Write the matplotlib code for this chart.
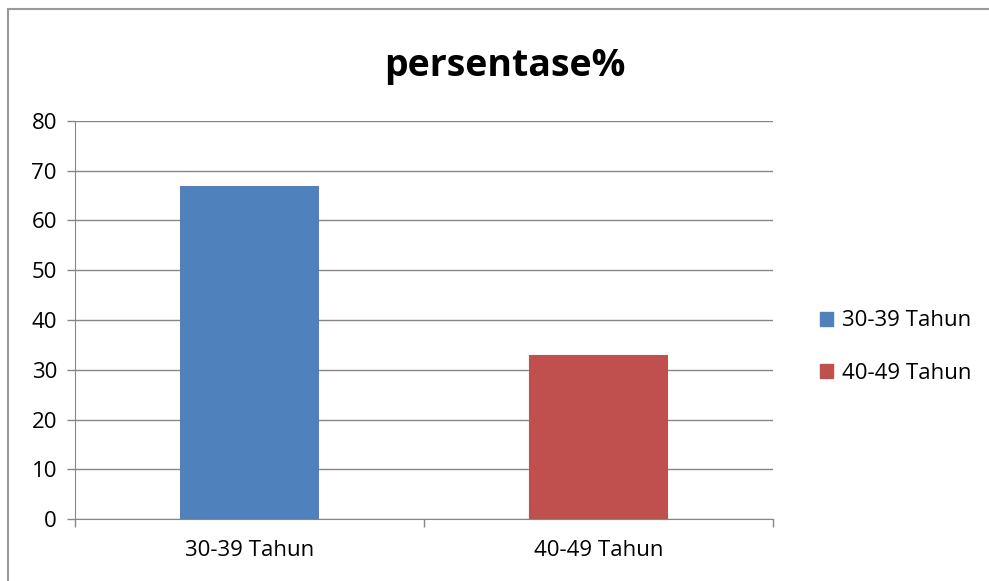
import matplotlib.pyplot as plt
from matplotlib.lines import Line2D
from matplotlib.patches import Patch

categories = ['30-39 Tahun', '40-49 Tahun']
values = [67, 33]
colors = ['#4F81BD', '#C0504D']
yticks = [0, 10, 20, 30, 40, 50, 60, 70, 80]

plt.rcParams['font.family'] = ['Open Sans', 'DejaVu Sans']

fig = plt.figure(figsize=(9.89, 5.81), dpi=100)
ax = fig.add_axes([75 / 989, 62 / 581, 698 / 989, 398 / 581])

x = range(len(categories))
ax.bar(x, values, width=0.4, color=colors, zorder=3)

ax.set_xlim(-0.5, 1.5)
ax.set_ylim(0, 80)
ax.set_yticks(yticks)
ax.set_xticks(list(x))
ax.set_xticklabels(categories)
ax.set_xticks([-0.5, 0.5, 1.5], minor=True)
ax.tick_params(axis='x', which='major', length=0, pad=15, labelsize=16)
ax.tick_params(axis='x', which='minor', length=6, color='#868686', width=1)
ax.tick_params(axis='y', length=6, color='#868686', width=1, labelsize=16, pad=7)
ax.grid(axis='y', color='#868686', linewidth=1, zorder=0)
for s in ['top', 'right']:
    ax.spines[s].set_visible(False)
for s in ['left', 'bottom']:
    ax.spines[s].set_color('#868686')

fig.text(505 / 989, 1 - 66 / 581, 'persentase%', ha='center', va='center',
         fontsize=27, fontweight='bold')

handles = [Patch(color=c) for c in colors]
fig.legend(handles, categories, loc='center left', bbox_to_anchor=(800 / 989, 1 - 347 / 581),
           frameon=False, fontsize=16, handlelength=0.6, handleheight=0.6,
           handletextpad=0.4, labelspacing=1.4)

# outer frame (top and left edges visible)
fig.add_artist(Line2D([8 / 989, 8 / 989], [0, 1 - 9 / 581], transform=fig.transFigure,
                      color='#9a9a9a', linewidth=1.5))
fig.add_artist(Line2D([8 / 989, 1], [1 - 9 / 581, 1 - 9 / 581], transform=fig.transFigure,
                      color='#9a9a9a', linewidth=1.5))

fig.savefig('out.png', dpi=100)
